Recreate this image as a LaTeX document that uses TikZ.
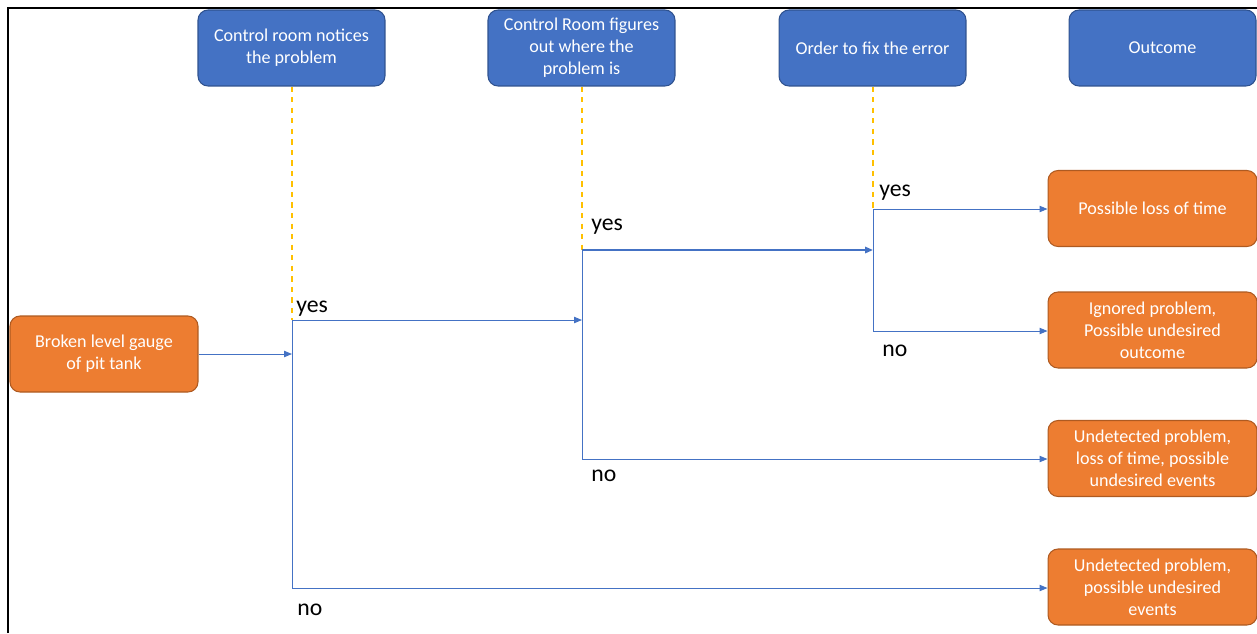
\documentclass[tikz,border=0pt]{standalone}
\usepackage{xcolor}
\usepackage{tikz}
\usepackage{fontspec}
\setmainfont{Carlito}
\usetikzlibrary{positioning,arrows.meta}
\definecolor{boxblue}{HTML}{4472C4}
\definecolor{boxblueline}{HTML}{2F528F}
\definecolor{boxorange}{HTML}{ED7D31}
\definecolor{boxorangeline}{HTML}{AE5A21}
\definecolor{guideyellow}{HTML}{FFC000}

\begin{document}
\begin{tikzpicture}[x=0.02cm, y=-0.02cm, >={Triangle[length=4.5pt,width=3.6pt]}]
\tikzstyle{stage}=[draw=boxblueline, fill=boxblue, text=white, rounded corners=0.2cm, align=center, minimum width=3.74cm, minimum height=1.52cm, line width=0.6pt, font=\fontsize{10.3}{12.5}\selectfont]
\tikzstyle{result}=[stage, draw=boxorangeline, fill=boxorange, minimum width=4.18cm]
\tikzstyle{flow}=[draw=boxblue, line width=0.5pt]
\tikzstyle{guide}=[draw=guideyellow, dashed, line width=0.8pt]
\tikzstyle{answer}=[anchor=west, inner sep=0pt, font=\fontsize{13.5}{16}\selectfont]
\useasboundingbox (0,0) rectangle (1257,633);
\draw[line width=1.2pt] (8,633) -- (8,8) -- (1257,8);

\node[stage] (notice) at (291.5,48) {Control room notices\\the problem};
\node[stage] (locate) at (581.5,48) {Control Room figures\\out where the\\problem is};
\node[stage] (order) at (872.5,48) {Order to fix the error};
\node[stage] (outcome) at (1162.5,48) {Outcome};

\node[result, minimum width=3.76cm] (gauge) at (104,354) {Broken level gauge\\of pit tank};
\node[result] (losstime) at (1152.5,208.5) {Possible loss of time};
\node[result] (ignored) at (1152.5,330) {Ignored problem,\\Possible undesired\\outcome};
\node[result] (undetA) at (1152.5,458.5) {Undetected problem,\\loss of time, possible\\undesired events};
\node[result] (undetB) at (1152.5,587) {Undetected problem,\\possible undesired\\events};

\coordinate (fork1) at (292,320);
\coordinate (fork1end) at (292,588);
\coordinate (fork2) at (582,250);
\coordinate (fork2end) at (582,459);
\coordinate (fork3) at (873,209);
\coordinate (fork3end) at (873,331);

\draw[guide] (fork1 |- notice.south) -- (fork1);
\draw[guide] (fork2 |- locate.south) -- (fork2);
\draw[guide] (fork3 |- order.south) -- (fork3);

\draw[flow, ->] (gauge.east) -- (gauge.east -| fork1);
\draw[flow] (fork1) -- (fork1end);
\draw[flow, ->] (fork1) -- (fork1 -| fork2);
\draw[flow, ->] (fork1end) -- (fork1end -| undetB.west);
\draw[flow] (fork2) -- (fork2end);
\draw[flow, line width=1.1pt, ->] (fork2) -- (fork2 -| fork3);
\draw[flow, ->] (fork2end) -- (fork2end -| undetA.west);
\draw[flow] (fork3) -- (fork3end);
\draw[flow, ->] (fork3) -- (fork3 -| losstime.west);
\draw[flow, ->] (fork3end) -- (fork3end -| ignored.west);

\node[answer] (yes1) at (296,309) {yes};
\node[answer] (no1) at (297,610) {no};
\node[answer] (yes2) at (591,227) {yes};
\node[answer] (no2) at (591,476) {no};
\node[answer] (yes3) at (879,193) {yes};
\node[answer] (no3) at (882,351) {no};
\end{tikzpicture}
\end{document}
